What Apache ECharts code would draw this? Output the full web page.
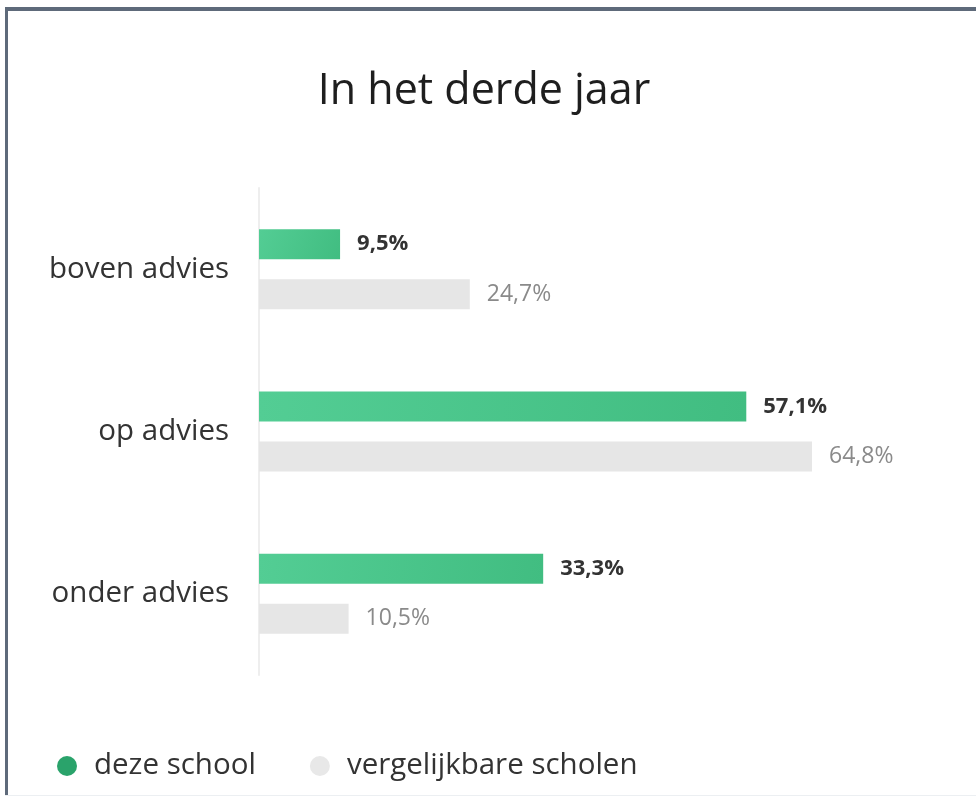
<!DOCTYPE html>
<html><head><meta charset="utf-8">
<script src="https://cdn.jsdelivr.net/npm/echarts@6/dist/echarts.min.js"></script>
<style>
html,body{margin:0;padding:0;background:#fff;}
#chart{position:absolute;left:0;top:0;width:976px;height:796px;}
.bt{position:absolute;left:5px;top:7px;width:971px;height:4px;background:#5e6a7a;}
.bl{position:absolute;left:5px;top:7px;width:3px;height:789px;background:#5e6a7a;}
.bb{position:absolute;left:5px;top:795px;width:971px;height:1px;background:#eceff2;}
</style></head>
<body>
<div id="chart"></div>
<div class="bt"></div><div class="bl"></div><div class="bb"></div>
<script>
const categories = ['boven advies', 'op advies', 'onder advies'];
const dezeSchool = [9.5, 57.1, 33.3];
const vergelijkbare = [24.7, 64.8, 10.5];
const seriesNames = ['deze school', 'vergelijkbare scholen'];

const fmt = v => String(v.toFixed(1)).replace('.', ',') + '%';
const chart = echarts.init(document.getElementById('chart'));
const FONT = 'Open Sans';
chart.setOption({
  animation: false,
  textStyle: { fontFamily: FONT },
  title: {
    text: 'In het derde jaar', left: 479, textAlign: 'center', top: 65,
    textStyle: { fontFamily: FONT, fontSize: 43, fontWeight: 'normal', color: '#1e1e1e' }
  },
  legend: {
    left: 52, top: 746, itemWidth: 20, itemHeight: 20, itemGap: 54, icon: 'circle',
    textStyle: { fontFamily: FONT, fontSize: 29.5, color: '#333', padding: [0, 0, 0, 12] },
    data: [
      { name: seriesNames[0], itemStyle: { color: '#2aa36b' } },
      { name: seriesNames[1], itemStyle: { color: '#e8e8e8' } }
    ]
  },
  grid: { left: 259, right: 164, top: 188, bottom: 121, containLabel: false },
  xAxis: { type: 'value', min: 0, max: 64.8, show: false },
  yAxis: {
    type: 'category', data: categories, inverse: true,
    axisLine: { show: true, lineStyle: { color: '#eeeeee', width: 2 } },
    axisTick: { show: false },
    axisLabel: { fontFamily: FONT, fontSize: 29.5, color: '#333', margin: 30 }
  },
  series: [
    {
      name: seriesNames[0], type: 'bar', data: dezeSchool, barWidth: 30, barGap: '66.7%',
      itemStyle: {
        color: new echarts.graphic.LinearGradient(0, 0, 1, 1, [
          { offset: 0, color: '#53cd94' }, { offset: 1, color: '#41bd81' }
        ])
      },
      label: { show: true, position: 'right', distance: 17, formatter: p => fmt(p.value),
        fontFamily: FONT, fontSize: 22, fontWeight: 'bold', color: '#333' }
    },
    {
      name: seriesNames[1], type: 'bar', data: vergelijkbare, barWidth: 30,
      itemStyle: { color: '#e6e6e6' },
      label: { show: true, position: 'right', distance: 17, formatter: p => fmt(p.value),
        fontFamily: FONT, fontSize: 23, color: '#8a8a8a' }
    }
  ]
});
</script>
</body></html>
